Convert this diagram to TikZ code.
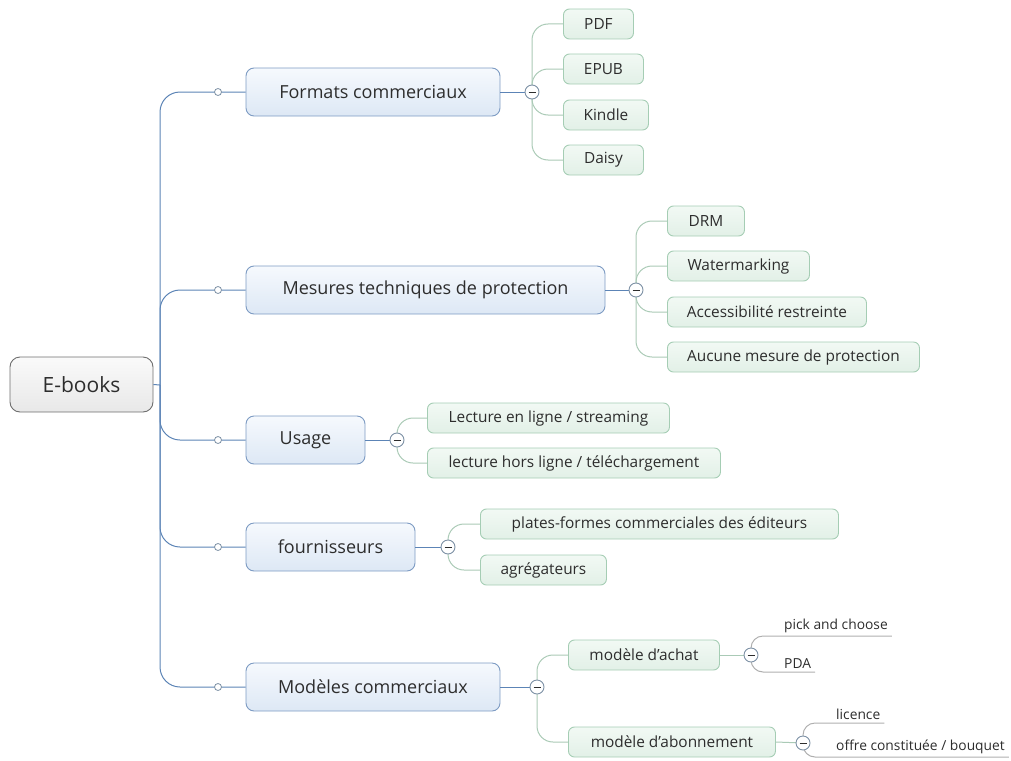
\documentclass[tikz,border=0pt]{standalone}
\usepackage{fontspec}
\setmainfont{Open Sans}
\definecolor{trunkc}{RGB}{92,132,182}
\definecolor{mainborder}{RGB}{125,155,195}
\definecolor{maintop}{RGB}{246,249,253}
\definecolor{mainbot}{RGB}{221,232,245}
\definecolor{leafborder}{RGB}{165,205,180}
\definecolor{leaftop}{RGB}{242,249,244}
\definecolor{leafbot}{RGB}{226,240,231}
\definecolor{leafc}{RGB}{170,202,182}
\definecolor{subc}{RGB}{175,175,175}
\definecolor{rootborder}{RGB}{110,110,110}
\definecolor{roottop}{RGB}{250,250,250}
\definecolor{rootbot}{RGB}{232,232,232}
\definecolor{textc}{RGB}{45,45,45}
\definecolor{dotc}{RGB}{125,145,165}
\begin{document}
\begin{tikzpicture}[x=1pt,y=-1pt,
  rootbox/.style={draw=rootborder, line width=0.9pt, rounded corners=10pt, top color=roottop, bottom color=rootbot,
    minimum width=143pt, minimum height=55pt, inner sep=0pt, text=textc, font=\fontsize{21}{24}\selectfont},
  mainbox/.style={draw=mainborder, line width=0.9pt, rounded corners=8pt, top color=maintop, bottom color=mainbot,
    minimum height=48pt, inner sep=0pt, text=textc, font=\fontsize{18}{21}\selectfont},
  leafbox/.style={draw=leafborder, line width=0.9pt, rounded corners=6pt, top color=leaftop, bottom color=leafbot,
    minimum height=30pt, inner sep=0pt, anchor=west, text=textc, font=\fontsize{15.4}{18}\selectfont},
  subleaf/.style={anchor=south west, inner xsep=4pt, inner ysep=3pt, text=textc, font=\fontsize{13.8}{16}\selectfont},
  trunkline/.style={draw=trunkc, line width=1pt},
  leafline/.style={draw=leafc, line width=1pt, rounded corners=16pt},
  subline/.style={draw=subc, line width=1pt, rounded corners=12pt},
  dotnode/.style={circle, draw=dotc, fill=white, line width=0.8pt, minimum size=7pt, inner sep=0pt},
  minusnode/.style={circle, draw=dotc, fill=white, line width=0.9pt, minimum size=14pt, inner sep=0pt,
    path picture={\draw[textc, line width=1pt] ([xshift=-3.5pt]path picture bounding box.center) -- ([xshift=3.5pt]path picture bounding box.center);}}
]
\useasboundingbox (0,0) rectangle (1011,760);

% root
\node[rootbox] (root) at (81.5,384.5) {E-books};
\coordinate (j) at (160,385);

% main boxes
\node[mainbox, minimum width=254pt] (fc) at (373,92) {Formats commerciaux};
\node[mainbox, minimum width=359pt] (mt) at (425.5,290) {Mesures techniques de protection};
\node[mainbox, minimum width=119pt] (us) at (305.5,440) {Usage};
\node[mainbox, minimum width=169pt] (fo) at (330.5,547) {fournisseurs};
\node[mainbox, minimum width=254pt] (mc) at (373,687) {Modèles commerciaux};

\coordinate (d1) at (218,92);
\coordinate (d2) at (218,290);
\coordinate (d3) at (218,440);
\coordinate (d4) at (218,547);
\coordinate (d5) at (218,687);

\coordinate (m1) at (532,92);
\coordinate (m2) at (636,290);
\coordinate (m3) at (397,440);
\coordinate (m4) at (448,547);
\coordinate (m5) at (537,687);
\coordinate (m6) at (751,655);
\coordinate (m7) at (803,743);

% leaves
\node[leafbox, minimum width=70pt] (pdf) at (563,24) {PDF};
\node[leafbox, minimum width=80pt] (epub) at (563,69) {EPUB};
\node[leafbox, minimum width=85pt] (kindle) at (563,115) {Kindle};
\node[leafbox, minimum width=80pt] (daisy) at (563,160) {Daisy};

\node[leafbox, minimum width=77pt] (drm) at (667,221) {DRM};
\node[leafbox, minimum width=142pt] (wm) at (667,266) {Watermarking};
\node[leafbox, minimum width=199pt] (acc) at (667,312) {Accessibilité restreinte};
\node[leafbox, minimum width=252pt] (auc) at (667,357) {Aucune mesure de protection};

\node[leafbox, minimum width=242pt] (lel) at (427,418) {Lecture en ligne / streaming};
\node[leafbox, minimum width=293pt] (lhl) at (427,463) {lecture hors ligne / téléchargement};

\node[leafbox, minimum width=358pt] (pf) at (480,524) {plates-formes commerciales des éditeurs};
\node[leafbox, minimum width=126pt] (ag) at (480,570) {agrégateurs};

\node[leafbox, minimum width=151pt] (ach) at (568,655) {modèle d\symbol{39}achat};
\node[leafbox, minimum width=207pt] (abo) at (568,742) {modèle d\symbol{39}abonnement};

% sub leaves
\node[subleaf] (pick) at (780,636) {pick and choose};
\node[subleaf] (pda) at (780,672) {PDA};
\node[subleaf] (lic) at (832,723) {licence};
\node[subleaf] (offre) at (832,757) {offre constituée / bouquet};

% trunk connectors
\draw[trunkline] (root.east) -- (j);
\foreach \d/\b in {d1/fc,d2/mt,d3/us,d4/fo,d5/mc}{
  \draw[trunkline, rounded corners=20pt] (j) |- (\d) -- (\b.west);
}
\foreach \b/\m in {fc/m1,mt/m2,us/m3,fo/m4,mc/m5}{
  \draw[trunkline] (\b.east) -- (\m);
}
\draw[leafline] (ach.east) -- (m6);
\draw[leafline] (abo.east) -- (m7);

% leaf connectors
\foreach \l in {pdf,epub,kindle,daisy}{\draw[leafline] (m1) |- (\l.west);}
\foreach \l in {drm,wm,acc,auc}{\draw[leafline] (m2) |- (\l.west);}
\foreach \l in {lel,lhl}{\draw[leafline] (m3) |- (\l.west);}
\foreach \l in {pf,ag}{\draw[leafline] (m4) |- (\l.west);}
\foreach \l in {ach,abo}{\draw[leafline] (m5) |- (\l.west);}

% sub-leaf connectors
\draw[subline] (m6) |- (pick.south west) -- (pick.south east);
\draw[subline] (m6) |- (pda.south west) -- (pda.south east);
\draw[subline] (m7) |- (lic.south west) -- (lic.south east);
\draw[subline] (m7) |- (offre.south west) -- (offre.south east);

% dots and collapse markers
\foreach \d in {d1,d2,d3,d4,d5}{\node[dotnode] at (\d) {};}
\foreach \m in {m1,m2,m3,m4,m5,m6,m7}{\node[minusnode] at (\m) {};}
\end{tikzpicture}
\end{document}
